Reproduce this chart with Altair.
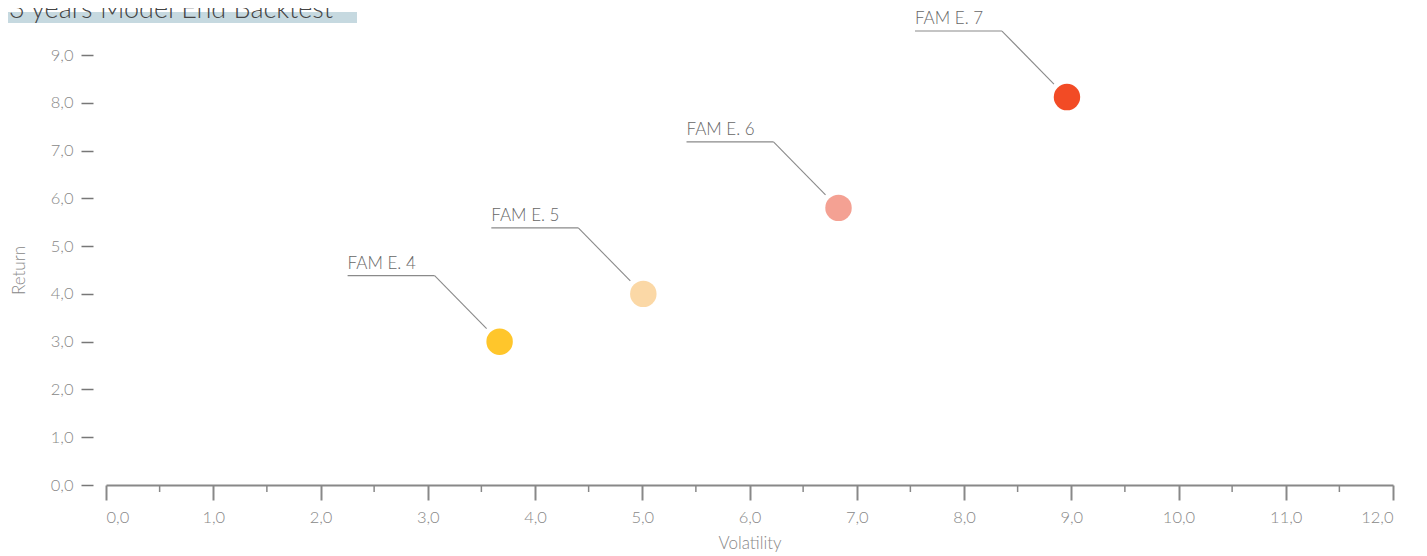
import altair as alt
import pandas as pd

# ---- data ----
names = ["FAM E. 4", "FAM E. 5", "FAM E. 6", "FAM E. 7"]
volatility = [3.67, 5.01, 6.83, 8.96]
returns = [3.0, 4.0, 5.8, 8.12]
colors = ["#FFC62B", "#FBD8A6", "#F4A193", "#F24B25"]

x_ticks = list(range(0, 13))
x_minor_ticks = [i + 0.5 for i in range(12)]
y_ticks = list(range(0, 10))
title_text = "3 years Model End Backtest"

FONT = "Lato"
W, H = 1287, 430

df = pd.DataFrame({"name": names, "vol": volatility, "ret": returns})
minor_df = pd.DataFrame({"v": x_minor_ticks})
title_df = pd.DataFrame({"t": [title_text]})

comma_expr = "replace(format(datum.value, '.1f'), '.', ',')"

xscale = alt.Scale(domain=[0, 12], nice=False, zero=True)
yscale = alt.Scale(domain=[0, 9], nice=False, zero=True)

base = alt.Chart(df)

# title highlight bar + title text
bar = alt.Chart(title_df).mark_rect(color="#C6D9E0").encode(
    x=alt.value(-98), x2=alt.value(251), y=alt.value(-43), y2=alt.value(-32)
)
title = alt.Chart(title_df).mark_text(
    align="left", baseline="alphabetic", font=FONT, fontSize=27, fontWeight=300, color="#444444"
).encode(x=alt.value(-97), y=alt.value(-37), text="t:N")

# minor x ticks
minor = alt.Chart(minor_df).mark_rule(color="#888888", strokeWidth=1.5).encode(
    x=alt.X("v:Q", scale=xscale), y=alt.value(H), y2=alt.value(H + 7)
)

# leader lines
hline = base.mark_rule(
    color="#8A8A8A", strokeWidth=1.1, xOffset=-152, x2Offset=-65, yOffset=-66, y2Offset=-66
).encode(
    x=alt.X("vol:Q", scale=xscale), x2="vol:Q",
    y=alt.Y("ret:Q", scale=yscale), y2="ret:Q",
)
dline = base.mark_rule(
    color="#8A8A8A", strokeWidth=1.1, xOffset=-65, x2Offset=-13, yOffset=-66, y2Offset=-13
).encode(
    x=alt.X("vol:Q", scale=xscale), x2="vol:Q",
    y=alt.Y("ret:Q", scale=yscale), y2="ret:Q",
)

labels = base.mark_text(
    align="left", baseline="alphabetic", dx=-152, dy=-73,
    font=FONT, fontSize=17, fontWeight=300, color="#666666"
).encode(
    x=alt.X("vol:Q", scale=xscale), y=alt.Y("ret:Q", scale=yscale), text="name:N"
)

points = base.mark_point(filled=True, shape="circle", size=700, opacity=1).encode(
    x=alt.X(
        "vol:Q", scale=xscale,
        axis=alt.Axis(
            title="Volatility", values=x_ticks, labelExpr=comma_expr,
            grid=False, domainColor="#888888", domainWidth=2,
            tickColor="#888888", tickWidth=2, tickSize=15,
            labelPadding=9, labelFont=FONT, labelFontSize=16.5, labelFontWeight=300,
            labelColor="#888888", titleFont=FONT, titleFontSize=17, titleFontWeight=300,
            titleColor="#888888", titlePadding=10,
        ),
    ),
    y=alt.Y(
        "ret:Q", scale=yscale,
        axis=alt.Axis(
            title="Return", values=y_ticks, labelExpr=comma_expr,
            grid=False, domain=False, offset=13,
            tickColor="#777777", tickWidth=1.5, tickSize=12,
            labelPadding=8, labelFont=FONT, labelFontSize=16.5, labelFontWeight=300,
            labelColor="#888888", titleFont=FONT, titleFontSize=17, titleFontWeight=300,
            titleColor="#888888", titlePadding=22,
        ),
    ),
    color=alt.Color("name:N", scale=alt.Scale(domain=names, range=colors), legend=None),
)

chart = alt.layer(bar, title, minor, hline, dline, labels, points).properties(
    width=W, height=H,
    autosize=alt.AutoSizeParams(type="none"),
    padding={"left": 98, "top": 47, "right": 26, "bottom": 70},
).configure_view(stroke=None)

chart.save("out.html", embed_options={"renderer": "svg", "actions": False})
